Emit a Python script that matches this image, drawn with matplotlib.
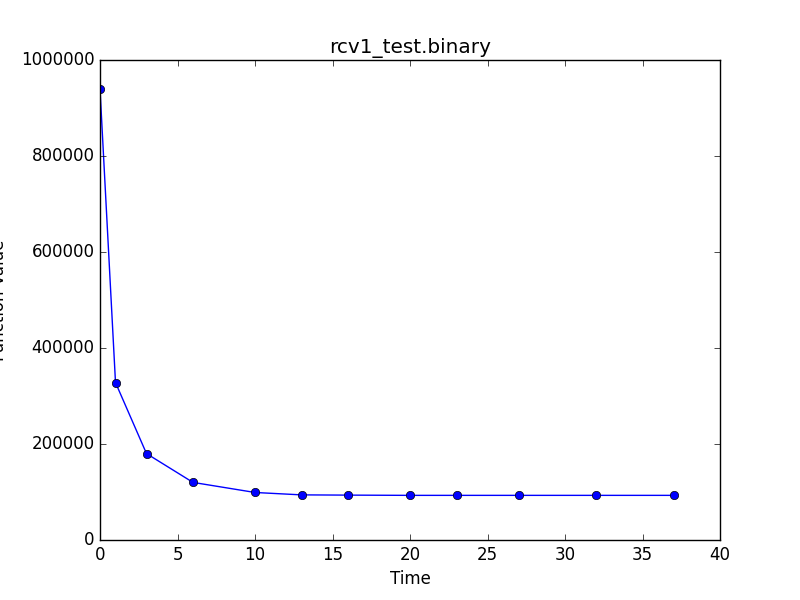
import matplotlib
matplotlib.use('Agg')
import matplotlib.pyplot as plt

plt.style.use('classic')

time = [0, 1, 3, 6, 10, 13, 16, 20, 23, 27, 32, 37]
func_value = [940000, 328000, 180000, 120000, 99000, 94000, 93500, 93000, 93000, 93000, 93000, 93000]

fig = plt.figure(figsize=(8, 6), dpi=100, facecolor='white')
ax = fig.add_subplot(111)
ax.plot(time, func_value, 'b-o')
ax.set_title('rcv1_test.binary')
ax.set_xlabel('Time')
ax.set_ylabel('Function Value')
ax.yaxis.set_label_coords(-0.148, 0.5)
ax.set_xlim(0, 40)
ax.set_ylim(0, 1000000)
ax.ticklabel_format(style='plain', axis='y', useOffset=False)
fig.savefig('out.png', facecolor='white')
